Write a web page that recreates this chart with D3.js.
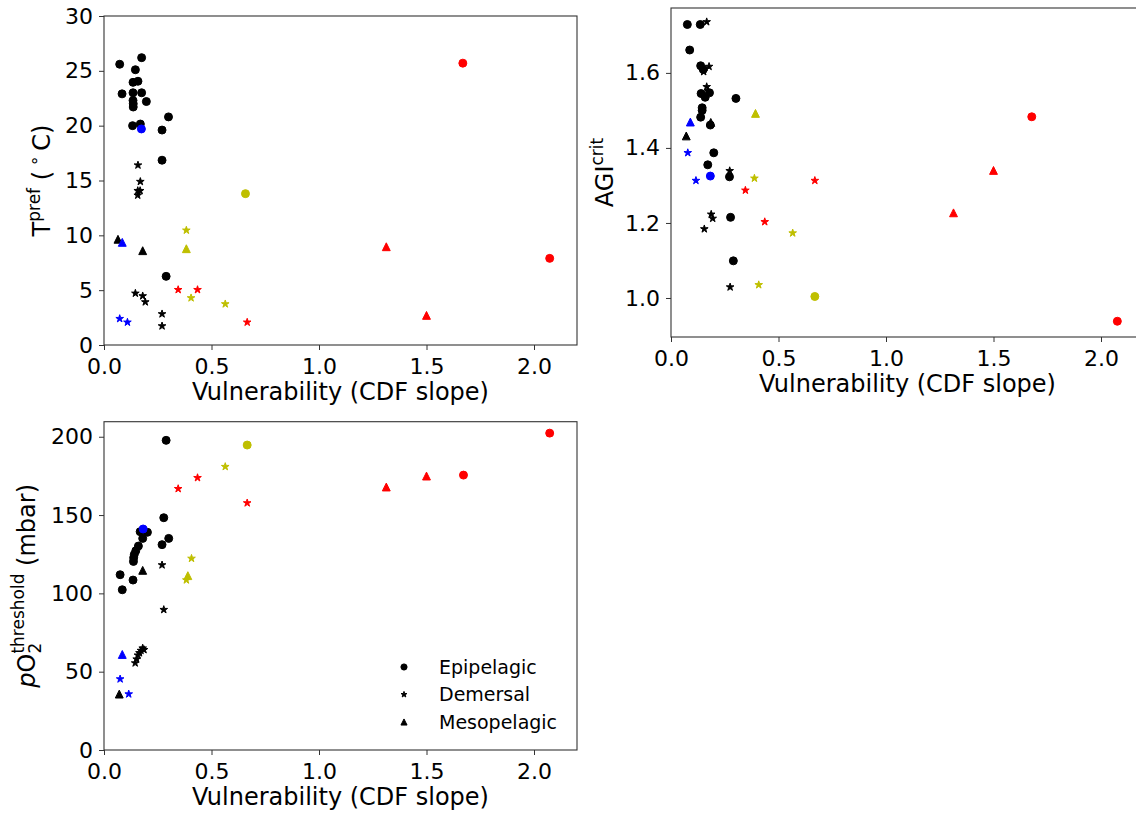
<!DOCTYPE html>
<html>
<head>
<meta charset="utf-8">
<script src="https://cdn.jsdelivr.net/npm/d3@7"></script>
<style>
  body { margin: 0; background: #fff; }
  svg text { font-family: "DejaVu Sans", sans-serif; fill: #000; }
</style>
</head>
<body>
<svg id="chart" width="1136" height="813"></svg>
<script>
// habitat legend order and colours used by the groups
const habitats = ["Epipelagic", "Demersal", "Mesopelagic"];
const colours = {k: "#000000", b: "#0000ff", y: "#bfbf00", r: "#ff0000"};
const xTicks = [0, 0.5, 1.0, 1.5, 2.0];

// [habitat, colour, vulnerability, value]
const tprefPoints = [
    ["E","k",0.073,25.6],["E","k",0.175,26.2],["E","k",0.146,25.1],["E","k",0.135,23.95],["E","k",0.158,24.05],
    ["E","k",0.084,22.9],["E","k",0.135,23.0],["E","k",0.175,23.0],["E","k",0.135,22.3],["E","k",0.136,22.0],
    ["E","k",0.136,21.7],["E","k",0.197,22.2],["E","k",0.133,20.0],["E","k",0.169,20.15],["E","k",0.270,19.6],
    ["E","k",0.300,20.8],["E","k",0.270,16.85],["E","k",0.289,6.26],
    ["E","b",0.174,19.7],["E","y",0.658,13.8],["E","r",1.669,25.7],["E","r",2.073,7.9],
    ["D","k",0.158,16.4],["D","k",0.169,14.9],["D","k",0.157,14.07],["D","k",0.168,14.07],["D","k",0.157,13.65],
    ["D","k",0.146,4.71],["D","k",0.180,4.47],["D","k",0.192,3.92],["D","k",0.270,2.83],["D","k",0.270,1.73],
    ["D","b",0.073,2.40],["D","b",0.109,2.07],
    ["D","r",0.345,5.04],["D","r",0.435,5.04],["D","r",0.666,2.07],
    ["D","y",0.383,10.46],["D","y",0.405,4.29],["D","y",0.564,3.74],
    ["M","k",0.065,9.64],["M","k",0.180,8.6],["M","b",0.085,9.36],["M","y",0.383,8.78],
    ["M","r",1.313,8.96],["M","r",1.500,2.7]
];

const agiPoints = [
    ["E","k",0.076,1.729],["E","k",0.136,1.729],["E","k",0.087,1.661],["E","k",0.138,1.619],["E","k",0.150,1.609],
    ["E","k",0.140,1.545],["E","k",0.159,1.535],["E","k",0.179,1.547],["E","k",0.145,1.507],["E","k",0.145,1.500],
    ["E","k",0.138,1.482],["E","k",0.183,1.461],["E","k",0.302,1.532],["E","k",0.199,1.387],["E","k",0.171,1.355],
    ["E","k",0.272,1.323],["E","k",0.277,1.215],["E","k",0.290,1.099],
    ["E","b",0.183,1.325],["E","y",0.669,1.004],["E","r",1.678,1.483],["E","r",2.076,0.938],
    ["D","k",0.166,1.736],["D","k",0.177,1.617],["D","k",0.152,1.603],["D","k",0.166,1.563],["D","k",0.172,1.552],
    ["D","k",0.273,1.339],["D","k",0.187,1.223],["D","k",0.194,1.212],["D","k",0.155,1.184],["D","k",0.275,1.029],
    ["D","b",0.078,1.387],["D","b",0.116,1.313],
    ["D","r",0.346,1.287],["D","r",0.436,1.203],["D","r",0.669,1.313],
    ["D","y",0.388,1.319],["D","y",0.566,1.173],["D","y",0.408,1.035],
    ["M","k",0.071,1.432],["M","k",0.185,1.468],["M","b",0.090,1.469],["M","y",0.393,1.492],
    ["M","r",1.500,1.340],["M","r",1.314,1.227]
];

const po2Points = [
    ["E","k",0.289,197.7],["E","k",0.278,148.3],["E","k",0.168,139.4],["E","k",0.202,139.0],["E","k",0.180,135.1],
    ["E","k",0.301,135.1],["E","k",0.270,131.1],["E","k",0.160,130.2],["E","k",0.148,127.2],["E","k",0.141,124.9],
    ["E","k",0.138,122.8],["E","k",0.137,120.4],["E","k",0.075,111.9],["E","k",0.135,108.5],["E","k",0.085,102.3],
    ["E","b",0.182,141.1],["E","y",0.666,194.7],["E","r",1.672,175.5],["E","r",2.073,202.3],
    ["D","k",0.270,118.1],["D","k",0.278,89.6],["D","k",0.145,55.5],["D","k",0.152,58.0],["D","k",0.158,60.5],
    ["D","k",0.165,62.0],["D","k",0.172,63.5],["D","k",0.180,65.0],["D","k",0.186,64.0],
    ["D","b",0.075,45.3],["D","b",0.115,35.7],
    ["D","r",0.345,166.8],["D","r",0.435,173.8],["D","r",0.666,157.7],
    ["D","y",0.564,180.9],["D","y",0.407,122.3],["D","y",0.383,108.5],
    ["M","k",0.180,114.7],["M","k",0.071,35.7],["M","b",0.085,61.0],["M","y",0.390,111.3],
    ["M","r",1.313,167.9],["M","r",1.500,174.9]
];

const svg = d3.select("#chart");

// matplotlib style '^' : isoceles triangle, bbox centred
const mplTriangle = {
    draw(ctx, size) {
        const r = Math.sqrt(size) / 2;
        ctx.moveTo(0, -r);
        ctx.lineTo(r, r);
        ctx.lineTo(-r, r);
        ctx.closePath();
    }
};

function markerPath(h, scale) {
    if (h == "E") return d3.symbol(d3.symbolCircle, 50 * scale)();
    if (h == "D") return d3.symbol(d3.symbolStar, 18 * scale)();
    return d3.symbol(mplTriangle, 62 * scale)();
}

function drawPanel(cfg) {
    let x = d3.scaleLinear().domain([0, 2.2]).range([cfg.left, cfg.left + 473]);
    let y = d3.scaleLinear().domain(cfg.yDomain).range([cfg.bottom, cfg.top]);

    let g = svg.append("g");

    g.selectAll("path.pt")
        .data(cfg.points).join("path")
        .attr("class", "pt")
        .attr("d", d => markerPath(d[0], 1))
        .attr("transform", d => `translate(${x(d[2])},${y(d[3])})`)
        .attr("fill", d => colours[d[1]])
        .attr("stroke", d => colours[d[1]])
        .attr("stroke-width", 1);

    // frame
    g.append("rect")
        .attr("x", cfg.left).attr("y", cfg.top)
        .attr("width", 473).attr("height", cfg.bottom - cfg.top)
        .attr("fill", "none").attr("stroke", "#333").attr("stroke-width", 1.1);

    let xAxis = g.append("g")
        .attr("transform", `translate(0,${cfg.bottom})`)
        .call(d3.axisBottom(x).tickValues(xTicks).tickFormat(d3.format(".1f"))
            .tickSize(5).tickPadding(8).tickSizeOuter(0));
    let yAxis = g.append("g")
        .attr("transform", `translate(${cfg.left},0)`)
        .call(d3.axisLeft(y).tickValues(cfg.yTicks).tickFormat(d3.format(cfg.yFmt))
            .tickSize(5).tickPadding(6).tickSizeOuter(0));

    [xAxis, yAxis].forEach(a => {
        a.select(".domain").remove();
        a.selectAll(".tick line").attr("stroke", "#333");
        a.selectAll(".tick text")
            .attr("font-family", "DejaVu Sans").attr("font-size", 22).attr("fill", "#000");
    });

    g.append("text")
        .attr("x", cfg.left + 236.5).attr("y", cfg.bottom + 55)
        .attr("text-anchor", "middle").attr("font-size", 24)
        .text("Vulnerability (CDF slope)");

    let yl = g.append("text")
        .attr("transform", `translate(${cfg.labelX},${(cfg.top + cfg.bottom) / 2}) rotate(-90)`)
        .attr("text-anchor", "middle").attr("font-size", 24);
    cfg.label(yl);
    return g;
}

drawPanel({
    points: tprefPoints, left: 104, top: 16, bottom: 345,
    yDomain: [0, 30], yTicks: [0, 5, 10, 15, 20, 25, 30], yFmt: "d", labelX: 50,
    label: t => {
        t.append("tspan").text("T");
        t.append("tspan").attr("font-size", 17).attr("dy", -10).text("pref");
        t.append("tspan").attr("dy", 10).text(" (\u2009");
        t.append("tspan").attr("font-size", 17).attr("dy", -10).text("\u2218");
        t.append("tspan").attr("dy", 10).text("\u2009C)");
    }
});

drawPanel({
    points: agiPoints, left: 671, top: 8, bottom: 337,
    yDomain: [0.896, 1.773], yTicks: [1.0, 1.2, 1.4, 1.6], yFmt: ".1f", labelX: 613,
    label: t => {
        t.append("tspan").text("AGI");
        t.append("tspan").attr("font-size", 17).attr("dy", -10).text("crit");
    }
});

let bottom = drawPanel({
    points: po2Points, left: 104, top: 421.7, bottom: 750,
    yDomain: [0, 209.6], yTicks: [0, 50, 100, 150, 200], yFmt: "d", labelX: 35,
    label: t => {
        t.append("tspan").attr("font-style", "italic").text("p");
        t.append("tspan").text("O");
        t.append("tspan").attr("font-size", 17).attr("dy", 6).text("2");
        t.append("tspan").attr("font-size", 17).attr("dx", -10.8).attr("dy", -17).text("threshold");
        t.append("tspan").attr("dy", 11).text(" (mbar)");
    }
});

// legend (black markers, no frame)
let legend = bottom.append("g").attr("transform", "translate(404,667)");
habitats.forEach((h, i) => {
    let row = legend.append("g").attr("transform", `translate(0,${i * 27.5})`);
    row.append("path")
        .attr("d", markerPath(h[0], 0.6))
        .attr("fill", "#000").attr("stroke", "#000").attr("stroke-width", 1);
    row.append("text")
        .attr("x", 35).attr("y", 0).attr("dy", "0.36em")
        .attr("font-size", 19).text(h);
});
</script>
</body>
</html>
